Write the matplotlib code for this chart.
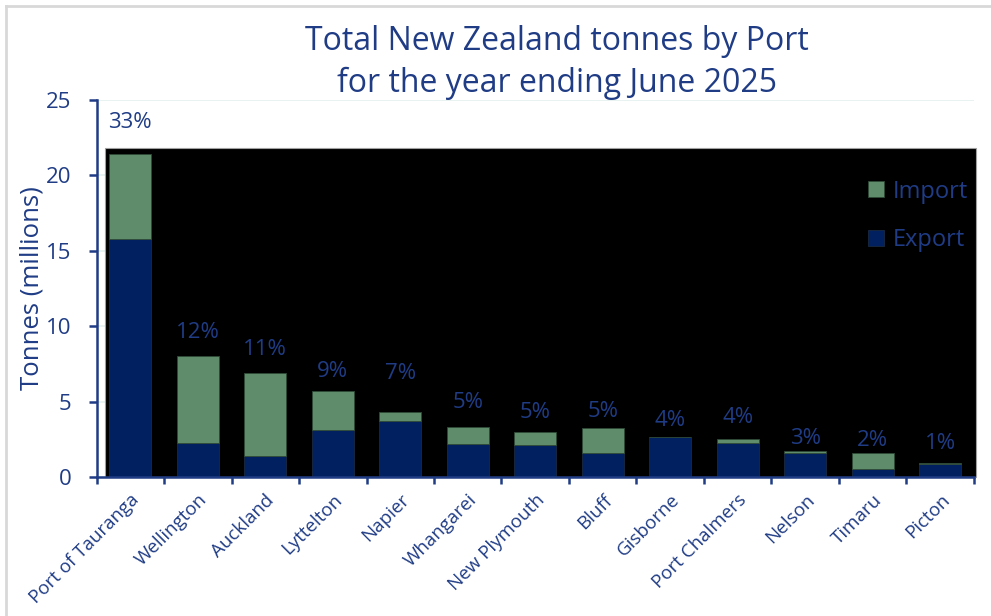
import matplotlib
matplotlib.use("Agg")
import matplotlib.pyplot as plt
from matplotlib.patches import Rectangle
from matplotlib.lines import Line2D
import numpy as np

plt.rcParams["font.family"] = ["Open Sans", "DejaVu Sans"]

PORTS = [
    "Port of Tauranga", "Wellington", "Auckland", "Lyttelton", "Napier",
    "Whangarei", "New Plymouth", "Bluff", "Gisborne", "Port Chalmers",
    "Nelson", "Timaru", "Picton",
]
EXPORT = [15.75, 2.23, 1.37, 3.14, 3.71, 2.19, 2.12, 1.57, 2.67, 2.28, 1.57, 0.51, 0.89]
IMPORT = [5.65, 5.79, 5.50, 2.56, 0.60, 1.10, 0.88, 1.66, 0.00, 0.22, 0.15, 1.06, 0.02]
SHARE = ["33%", "12%", "11%", "9%", "7%", "5%", "5%", "5%", "4%", "4%", "3%", "2%", "1%"]

# gap between bar top and its share label, in points
LABEL_GAP = [23, 17, 17, 14, 28, 18, 14, 12, 12, 16, 9, 9, 14]

NAVY = "#002060"
GREEN = "#5F8C6A"
TEXT = "#1F3C85"

fig = plt.figure(figsize=(9.91, 6.16), dpi=100)
ax = fig.add_axes([0.0974, 0.2256, 0.8854, 0.6121])

x = np.arange(len(PORTS))
ax.bar(x, EXPORT, width=0.62, color=NAVY, edgecolor="#1a2a40", linewidth=0.6,
       label="Export", zorder=3)
ax.bar(x, IMPORT, width=0.62, bottom=EXPORT, color=GREEN, edgecolor="#2f4a38",
       linewidth=0.6, label="Import", zorder=3)

# dark plot panel
ax.add_patch(Rectangle((0.0093, 0), 0.9935, 0.872, transform=ax.transAxes,
                       facecolor="black", edgecolor="#a0a0a0", linewidth=0.8,
                       clip_on=False, zorder=1))

totals = np.array(EXPORT) + np.array(IMPORT)
for xi, top, txt, gap in zip(x, totals, SHARE, LABEL_GAP):
    ax.annotate(txt, (xi, top), xytext=(0, gap), textcoords="offset points",
                ha="center", va="center", fontsize=16, color=TEXT, zorder=4)

ax.set_xlim(-0.5, len(PORTS) - 0.5)
ax.set_ylim(0, 25)
ax.set_yticks([0, 5, 10, 15, 20, 25])
ax.yaxis.grid(True, color="#e3f0ef", linewidth=1.2, zorder=0)
ax.set_axisbelow(True)

ax.set_xticks(np.arange(len(PORTS) + 1) - 0.5, minor=False)
ax.set_xticklabels([])
ax.set_xticks(x, minor=True)
ax.set_xticklabels(PORTS, minor=True, rotation=45, ha="right", va="top",
                   rotation_mode="anchor", fontsize=13.5, color=TEXT)
ax.tick_params(axis="x", which="minor", length=0, pad=10)
ax.tick_params(axis="x", which="major", length=5, width=1.8, color=TEXT, direction="out")
ax.tick_params(axis="y", length=6, width=1.8, color=TEXT, labelsize=16,
               labelcolor=TEXT, pad=12)

for side in ["top", "right"]:
    ax.spines[side].set_visible(False)
for side in ["left", "bottom"]:
    ax.spines[side].set_color(TEXT)
    ax.spines[side].set_linewidth(1.8)
    ax.spines[side].set_zorder(5)

ax.set_ylabel("Tonnes (millions)", fontsize=18.5, color=TEXT, labelpad=1)

ax.set_title("Total New Zealand tonnes by Port\nfor the year ending June 2025",
             fontsize=23, color=TEXT, pad=0.5, linespacing=1.33, x=0.525)

handles, labels = ax.get_legend_handles_labels()
leg = ax.legend(handles[::-1], labels[::-1], loc="upper right",
                bbox_to_anchor=(1.018, 0.845), frameon=False, fontsize=17,
                labelcolor=TEXT, handlelength=0.65, handleheight=0.65,
                handletextpad=0.4, labelspacing=1.05)
leg.set_zorder(6)

# light border around the figure
fig.add_artist(Line2D([0.006, 0.006], [0, 0.99], transform=fig.transFigure,
                      color="#d8d8d8", linewidth=2))
fig.add_artist(Line2D([0.006, 1.0], [0.99, 0.99], transform=fig.transFigure,
                      color="#d8d8d8", linewidth=2))

fig.savefig("out.png", dpi=100, facecolor="white")
